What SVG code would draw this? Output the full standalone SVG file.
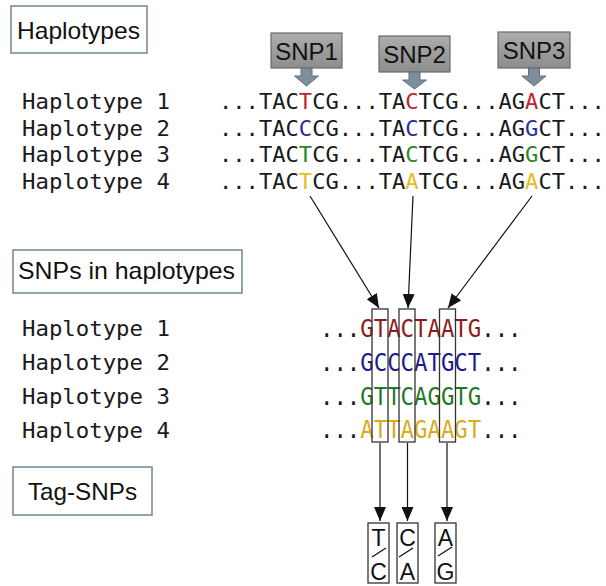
<svg xmlns="http://www.w3.org/2000/svg" width="606" height="586" viewBox="0 0 606 586">
<style>
.lbl{font-family:"Liberation Sans",Arial,sans-serif;font-size:24px;fill:#111}
.lblbox{fill:#fff;stroke:#6f8795;stroke-width:1.5}
.snpbox{fill:url(#gr);stroke:#6a6a6a;stroke-width:1.2}
.snparr{fill:#7f8e9c;stroke:#5f6e7c;stroke-width:1}
.mono{font-family:"DejaVu Sans Mono",monospace;font-size:22px;fill:#1a1a1a}
.seq2{font-family:"DejaVu Sans Mono",monospace;font-size:25px;fill:#1a1a1a}
.col{fill:none;stroke:#333;stroke-width:1.3}
.con{stroke:#111;stroke-width:1.2;fill:none}
.tag{font-family:"Liberation Sans",Arial,sans-serif;font-size:23px;fill:#111;text-anchor:middle}
.r{fill:#c0262b}.b{fill:#2b2ba0}.g{fill:#268a2a}.y{fill:#e3bd22}
.r2{fill:#8e1c1c}.b2{fill:#1c1c8e}.g2{fill:#1f7a24}.y2{fill:#d9ac1c}
</style>
<defs>
<linearGradient id="gr" x1="0" y1="0" x2="0" y2="1">
<stop offset="0" stop-color="#adadad"/>
<stop offset="1" stop-color="#8d8d8d"/>
</linearGradient>
<marker id="ah" markerUnits="userSpaceOnUse" markerWidth="14" markerHeight="12" refX="14" refY="6" orient="auto">
<path d="M0,0 L14,6 L0,12 z" fill="#111"/>
</marker>
</defs>
<rect width="606" height="586" fill="#fff"/>

<g id="label-haplotypes">
<rect class="lblbox" x="11" y="6" width="136" height="47"/>
<text class="lbl" x="17" y="39" textLength="123" lengthAdjust="spacingAndGlyphs">Haplotypes</text>
</g>

<g id="snp1">
<rect class="snpbox" x="271" y="33" width="71" height="35"/>
<text class="lbl" x="306.5" y="60" text-anchor="middle">SNP1</text>
<path class="snparr" d="M301,68 L312,68 L312,76 L318.5,76 L306.5,86 L294.5,76 L301,76 z"/>
</g>
<g id="snp2">
<rect class="snpbox" x="379" y="36" width="71" height="36"/>
<text class="lbl" x="414.5" y="63" text-anchor="middle">SNP2</text>
<path class="snparr" d="M409,72 L420,72 L420,80 L426.5,80 L414.5,89 L402.5,80 L409,80 z"/>
</g>
<g id="snp3">
<rect class="snpbox" x="498" y="32" width="72" height="36"/>
<text class="lbl" x="534" y="59" text-anchor="middle">SNP3</text>
<path class="snparr" d="M528.5,68 L539.5,68 L539.5,76 L546,76 L534,86 L522,76 L528.5,76 z"/>
</g>

<g id="haplotypes-top">
<text class="mono" transform="translate(22,109) scale(1.015,1)">Haplotype 1</text>
<text class="mono" transform="translate(22,135.7) scale(1.015,1)">Haplotype 2</text>
<text class="mono" transform="translate(22,162.3) scale(1.015,1)">Haplotype 3</text>
<text class="mono" transform="translate(22,189) scale(1.015,1)">Haplotype 4</text>
<text class="mono" transform="translate(219,109) scale(1.005,1)">...TAC<tspan class="r">T</tspan>CG...TA<tspan class="r">C</tspan>TCG...AG<tspan class="r">A</tspan>CT...</text>
<text class="mono" transform="translate(219,135.7) scale(1.005,1)">...TAC<tspan class="b">C</tspan>CG...TA<tspan class="b">C</tspan>TCG...AG<tspan class="b">G</tspan>CT...</text>
<text class="mono" transform="translate(219,162.3) scale(1.005,1)">...TAC<tspan class="g">T</tspan>CG...TA<tspan class="g">C</tspan>TCG...AG<tspan class="g">G</tspan>CT...</text>
<text class="mono" transform="translate(219,189) scale(1.005,1)">...TAC<tspan class="y">T</tspan>CG...TA<tspan class="y">A</tspan>TCG...AG<tspan class="y">A</tspan>CT...</text>
</g>

<g id="label-snps-in-haplotypes">
<rect class="lblbox" x="13" y="250" width="229" height="43"/>
<text class="lbl" x="18" y="279" textLength="217" lengthAdjust="spacingAndGlyphs">SNPs in haplotypes</text>
</g>

<g id="haplotypes-snps">
<text class="mono" transform="translate(22,336) scale(1.015,1)">Haplotype 1</text>
<text class="mono" transform="translate(22,370) scale(1.015,1)">Haplotype 2</text>
<text class="mono" transform="translate(22,404) scale(1.015,1)">Haplotype 3</text>
<text class="mono" transform="translate(22,438) scale(1.015,1)">Haplotype 4</text>
<text class="seq2" transform="translate(320,337) scale(0.893,1)">...<tspan class="r2">GTACTAATG</tspan>...</text>
<text class="seq2" transform="translate(320,371) scale(0.893,1)">...<tspan class="b2">GCCCATGCT</tspan>...</text>
<text class="seq2" transform="translate(320,405) scale(0.893,1)">...<tspan class="g2">GTTCAGGTG</tspan>...</text>
<text class="seq2" transform="translate(320,438) scale(0.893,1)">...<tspan class="y2">ATTAGAAGT</tspan>...</text>
</g>

<g id="snp-columns">
<rect class="col" x="372" y="309" width="16" height="133"/>
<rect class="col" x="399" y="309" width="16" height="133"/>
<rect class="col" x="439.5" y="309" width="16" height="133"/>
</g>

<g id="label-tag-snps">
<rect class="lblbox" x="13" y="467" width="139" height="48"/>
<text class="lbl" x="28" y="500" textLength="109" lengthAdjust="spacingAndGlyphs">Tag-SNPs</text>
</g>

<g id="tag1">
<rect class="col" x="368" y="523" width="21" height="60"/>
<text class="tag" x="378.5" y="546">T</text>
<line x1="372" y1="557" x2="386" y2="548" stroke="#111" stroke-width="1.3"/>
<text class="tag" x="378.5" y="580">C</text>
</g>
<g id="tag2">
<rect class="col" x="397" y="523" width="21" height="60"/>
<text class="tag" x="407.5" y="546">C</text>
<line x1="399" y1="557" x2="413" y2="548" stroke="#111" stroke-width="1.3"/>
<text class="tag" x="407.5" y="580">A</text>
</g>
<g id="tag3">
<rect class="col" x="435" y="523" width="21" height="60"/>
<text class="tag" x="445.5" y="546">A</text>
<line x1="438" y1="556" x2="452" y2="547" stroke="#111" stroke-width="1.3"/>
<text class="tag" x="445.5" y="580">G</text>
</g>

<g id="connectors">
<line class="con" x1="310" y1="196" x2="379" y2="308" marker-end="url(#ah)"/>
<line class="con" x1="413" y1="196" x2="408" y2="308" marker-end="url(#ah)"/>
<line class="con" x1="532" y1="196" x2="448" y2="308" marker-end="url(#ah)"/>
<line class="con" x1="380" y1="443" x2="380" y2="521" marker-end="url(#ah)"/>
<line class="con" x1="407.5" y1="443" x2="407.5" y2="521" marker-end="url(#ah)"/>
<line class="con" x1="447" y1="443" x2="447" y2="521" marker-end="url(#ah)"/>
</g>
</svg>
